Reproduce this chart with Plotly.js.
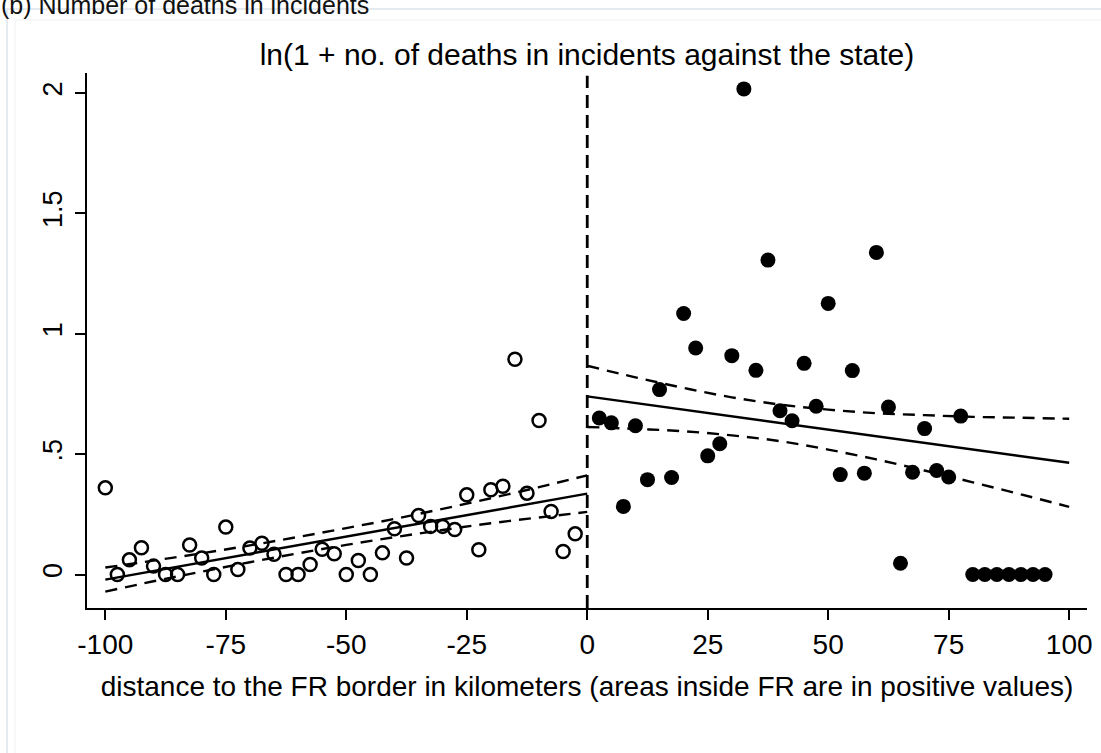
<!DOCTYPE html>
<html>
<head>
<meta charset="utf-8">
<script src="https://cdn.plot.ly/plotly-3.0.1.min.js"></script>
<style>
  html, body { margin: 0; padding: 0; background: #ffffff; }
  #chart { width: 1101px; height: 753px; }
</style>
</head>
<body>
<div id="chart"></div>
<script>
// ---- data ----
var outsideX = [-100, -97.5, -95, -92.5, -90, -87.5, -85, -82.5, -80, -77.5,
                -75, -72.5, -70, -67.5, -65, -62.5, -60, -57.5, -55, -52.5,
                -50, -47.5, -45, -42.5, -40, -37.5, -35, -32.5, -30, -27.5,
                -25, -22.5, -20, -17.5, -15, -12.5, -10, -7.5, -5, -2.5];
var outsideY = [0.36, 0, 0.061, 0.111, 0.035, 0, 0, 0.123, 0.069, 0,
                0.197, 0.021, 0.11, 0.13, 0.084, 0, 0, 0.042, 0.105, 0.086,
                0, 0.058, 0, 0.09, 0.19, 0.069, 0.245, 0.2, 0.2, 0.187,
                0.331, 0.103, 0.352, 0.367, 0.894, 0.338, 0.64, 0.262, 0.096, 0.169];

var insideX = [2.5, 5, 7.5, 10, 12.5, 15, 17.5, 20, 22.5, 25,
               27.5, 30, 32.5, 35, 37.5, 40, 42.5, 45, 47.5, 50,
               52.5, 55, 57.5, 60, 62.5, 65, 67.5, 70, 72.5, 75,
               77.5, 80, 82.5, 85, 87.5, 90, 92.5, 95];
var insideY = [0.65, 0.63, 0.283, 0.618, 0.394, 0.768, 0.403, 1.084, 0.941, 0.493,
               0.543, 0.909, 2.017, 0.848, 1.306, 0.68, 0.639, 0.877, 0.699, 1.126,
               0.415, 0.847, 0.421, 1.338, 0.696, 0.047, 0.425, 0.606, 0.432, 0.405,
               0.658, 0, 0, 0, 0, 0, 0, 0];

// fitted lines and confidence bands
var fitLeftX = [-100, 0];
var fitLeftY = [-0.021, 0.336];
var ciLeftX = [-100, -90, -80, -70, -60, -50, -40, -30, -20, -10, 0];
var ciLeftHi = [0.029, 0.058, 0.088, 0.121, 0.156, 0.193, 0.231, 0.273, 0.317, 0.363, 0.412];
var ciLeftLo = [-0.071, -0.028, 0.012, 0.051, 0.088, 0.123, 0.155, 0.185, 0.213, 0.237, 0.260];

var fitRightX = [0, 100];
var fitRightY = [0.74, 0.464];
var ciRightX = [0, 10, 20, 30, 40, 50, 60, 70, 80, 90, 100];
var ciRightHi = [0.867, 0.819, 0.775, 0.736, 0.706, 0.685, 0.670, 0.662, 0.655, 0.651, 0.647];
var ciRightLo = [0.613, 0.605, 0.595, 0.578, 0.554, 0.519, 0.478, 0.432, 0.383, 0.333, 0.281];

var xTicks = [-100, -75, -50, -25, 0, 25, 50, 75, 100];
var xTickText = ['-100', '-75', '-50', '-25', '0', '25', '50', '75', '100'];
var yTicks = [0, 0.5, 1, 1.5, 2];
var yTickText = ['0', '.5', '1', '1.5', '2'];

var titleText = 'ln(1 + no. of deaths in incidents against the state)';
var xTitleText = 'distance to the FR border in kilometers (areas inside FR are in positive values)';
var panelText = '(b) Number of deaths in incidents';

// ---- drawing ----
var FONT = 'Liberation Sans, Arial, Helvetica, sans-serif';
var dashStyle = '12px,8px';

var traces = [
  {x: outsideX, y: outsideY, type: 'scatter', mode: 'markers', hoverinfo: 'skip',
   marker: {symbol: 'circle-open', size: 13, color: '#000', line: {width: 2.5, color: '#000'}}},
  {x: insideX, y: insideY, type: 'scatter', mode: 'markers', hoverinfo: 'skip',
   marker: {symbol: 'circle', size: 15, color: '#000', line: {width: 0}}},
  {x: fitLeftX, y: fitLeftY, type: 'scatter', mode: 'lines', line: {color: '#000', width: 2.4}},
  {x: ciLeftX, y: ciLeftHi, type: 'scatter', mode: 'lines', line: {color: '#000', width: 2.4, dash: dashStyle, shape: 'spline'}},
  {x: ciLeftX, y: ciLeftLo, type: 'scatter', mode: 'lines', line: {color: '#000', width: 2.4, dash: dashStyle, shape: 'spline'}},
  {x: fitRightX, y: fitRightY, type: 'scatter', mode: 'lines', line: {color: '#000', width: 2.4}},
  {x: ciRightX, y: ciRightHi, type: 'scatter', mode: 'lines', line: {color: '#000', width: 2.4, dash: dashStyle, shape: 'spline'}},
  {x: ciRightX, y: ciRightLo, type: 'scatter', mode: 'lines', line: {color: '#000', width: 2.4, dash: dashStyle, shape: 'spline'}}
];

var layout = {
  width: 1101, height: 753,
  margin: {l: 87, r: 14, t: 73, b: 145, pad: 0},
  paper_bgcolor: '#ffffff', plot_bgcolor: '#ffffff',
  showlegend: false,
  font: {family: FONT, color: '#000', size: 26},
  title: {text: titleText, font: {family: FONT, size: 30, color: '#000'},
          x: 0.5, xref: 'paper', xanchor: 'center', y: 1 - 54 / 753, yref: 'container', yanchor: 'middle'},
  xaxis: {
    range: [-103.8, 103.7], showgrid: false, zeroline: false,
    showline: true, linecolor: '#000', linewidth: 2,
    ticks: 'outside', ticklen: 10, tickwidth: 2, tickcolor: '#000',
    tickvals: xTicks, ticktext: xTickText,
    tickfont: {family: FONT, size: 28, color: '#000'},
    title: {text: xTitleText, font: {family: FONT, size: 28, color: '#000'}, standoff: 18},
    automargin: false, fixedrange: true
  },
  yaxis: {
    range: [-0.139, 2.083], showgrid: false, zeroline: false,
    showline: true, linecolor: '#000', linewidth: 2,
    ticks: 'outside', ticklen: 10, tickwidth: 2, tickcolor: '#000',
    tickvals: yTicks, ticktext: yTickText, tickangle: -90, ticklabelstandoff: 2,
    tickfont: {family: FONT, size: 27, color: '#000'},
    automargin: false, fixedrange: true
  },
  shapes: [
    {type: 'line', xref: 'x', yref: 'paper', x0: 0, x1: 0, y0: 0, y1: 0.995,
     line: {color: '#000', width: 2.8, dash: '13px,7px'}},
    {type: 'rect', xref: 'paper', yref: 'paper', x0: -0.08, x1: 1.2, y0: (608 - 9) / 535, y1: -0.4,
     line: {color: '#e4eaf0', width: 2}, fillcolor: 'rgba(0,0,0,0)', layer: 'below'},
    {type: 'rect', xref: 'paper', yref: 'paper', x0: -0.072, x1: 1.2, y0: (608 - 20) / 535, y1: -0.4,
     line: {color: '#f4f6f8', width: 1.5}, fillcolor: 'rgba(0,0,0,0)', layer: 'below'}
  ],
  annotations: [
    {text: panelText, xref: 'paper', yref: 'paper', x: -0.088, xanchor: 'left',
     y: (608 - 5) / 535, yanchor: 'middle', showarrow: false,
     font: {family: FONT, size: 25, color: '#111'}}
  ]
};

Plotly.newPlot('chart', traces, layout, {displayModeBar: false, staticPlot: true});
</script>
</body>
</html>
